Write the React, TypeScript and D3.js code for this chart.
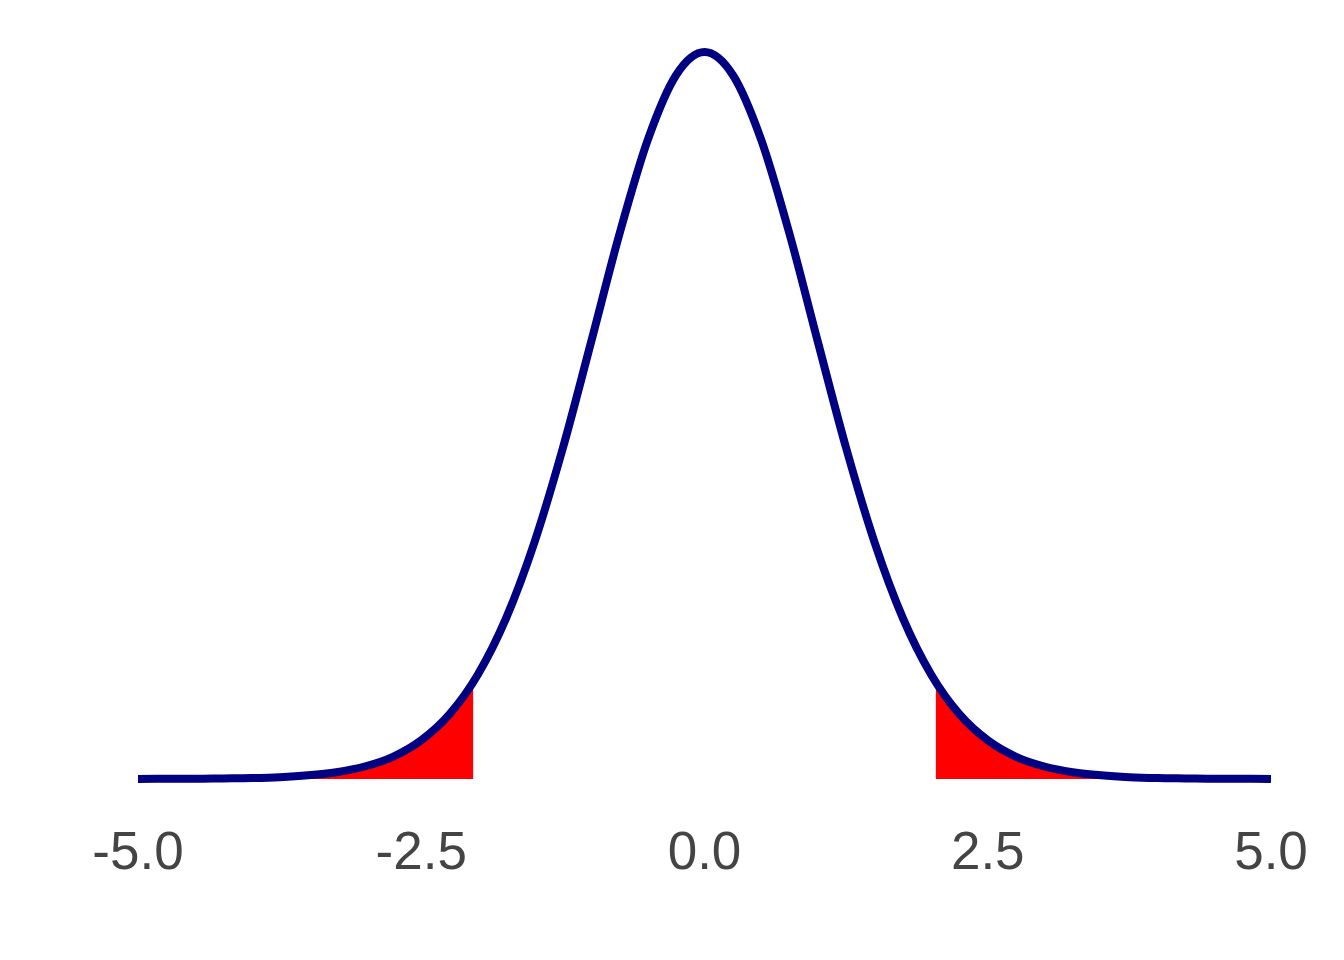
import { useEffect, useRef } from "react";
import * as d3 from "d3";

// t values along the x axis and the density
const tValues = [
  -5, -4.75, -4.5, -4.25, -4, -3.75, -3.5, -3.25, -3, -2.75, -2.5, -2.25, -2, -1.75, -1.5, -1.25, -1, -0.75, -0.5, -0.25,
  0, 0.25, 0.5, 0.75, 1, 1.25, 1.5, 1.75, 2, 2.25, 2.5, 2.75, 3, 3.25, 3.5, 3.75, 4, 4.25, 4.5, 4.75, 5,
];
const density = [
  0.0, 0.0001, 0.0001, 0.0003, 0.0005, 0.001, 0.002, 0.0037, 0.0068, 0.0121, 0.0211, 0.0353, 0.0569, 0.0877, 0.129,
  0.1801, 0.238, 0.2967, 0.3479, 0.3831, 0.3956, 0.3831, 0.3479, 0.2967, 0.238, 0.1801, 0.129, 0.0877, 0.0569, 0.0353,
  0.0211, 0.0121, 0.0068, 0.0037, 0.002, 0.001, 0.0005, 0.0003, 0.0001, 0.0001, 0.0,
];
// critical value and the density there (edge of the shaded tails)
const critical = 2.042;
const criticalDensity = 0.0526;
const tickValues = [-5, -2.5, 0, 2.5, 5];
const tickLabels = ["-5.0", "-2.5", "0.0", "2.5", "5.0"];

export default function App() {
  const ref = useRef<SVGSVGElement>(null);

  useEffect(() => {
    const svg = d3.select(ref.current);
    svg.selectAll("*").remove();

    const width = 1344;
    const height = 960;
    svg.attr("width", width).attr("height", height);

    const x = d3.scaleLinear().domain([-5, 5]).range([138, 1271]);
    const y = d3.scaleLinear().domain([0, 0.3956]).range([779, 52]);

    const pts = tValues.map((t, i) => ({ t, d: density[i] }));
    const leftTail = pts.filter(p => p.t <= -critical).concat([{ t: -critical, d: criticalDensity }]);
    const rightTail = [{ t: critical, d: criticalDensity }].concat(pts.filter(p => p.t >= critical));

    const area = d3.area<{ t: number; d: number }>()
      .x(p => x(p.t))
      .y0(y(0))
      .y1(p => y(p.d))
      .curve(d3.curveMonotoneX);

    svg.selectAll("path.tail")
      .data([leftTail, rightTail])
      .join("path")
      .attr("class", "tail")
      .attr("d", area)
      .attr("fill", "#FF0000");

    const line = d3.line<{ t: number; d: number }>()
      .x(p => x(p.t))
      .y(p => y(p.d))
      .curve(d3.curveMonotoneX);

    svg.append("path")
      .datum(pts)
      .attr("d", line)
      .attr("fill", "none")
      .attr("stroke", "#000080")
      .attr("stroke-width", 8)
      .attr("stroke-linejoin", "round");

    svg.selectAll("text.tick")
      .data(tickValues)
      .join("text")
      .attr("class", "tick")
      .attr("x", d => x(d))
      .attr("y", 869)
      .attr("text-anchor", "middle")
      .attr("font-family", "Liberation Sans, Arial, sans-serif")
      .attr("font-size", 53)
      .attr("fill", "#444444")
      .text((d, i) => tickLabels[i]);
  }, []);

  return <svg ref={ref} style={{ position: "absolute", left: 0, top: 0 }}></svg>;
}
